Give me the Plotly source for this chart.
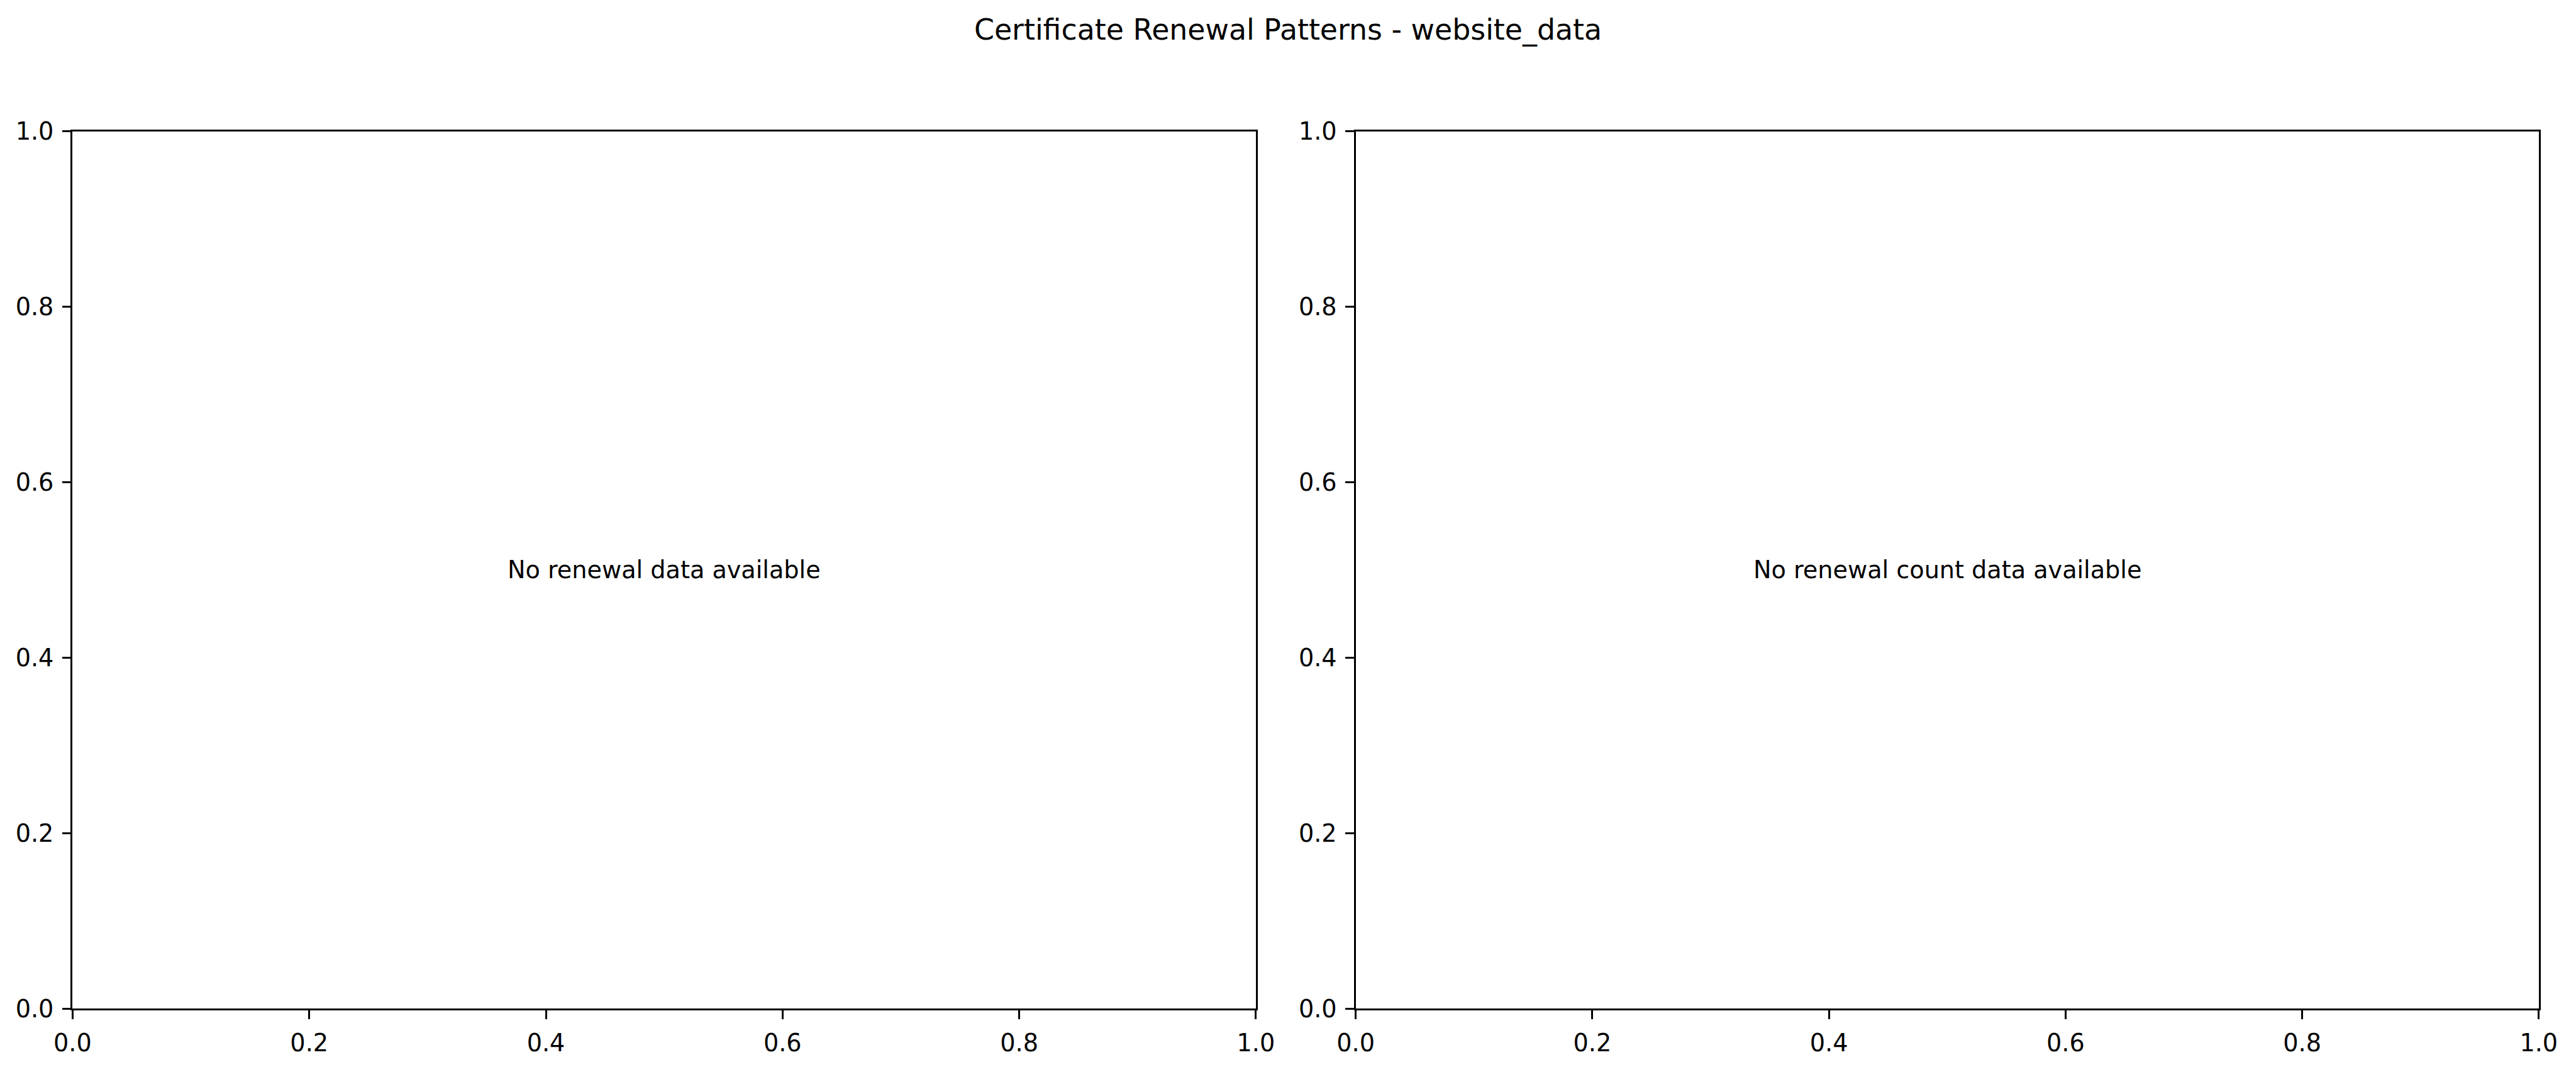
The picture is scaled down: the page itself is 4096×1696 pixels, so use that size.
import plotly.graph_objects as go

# ---- content ----
title_text = "Certificate Renewal Patterns - website_data"
panel_messages = ["No renewal data available", "No renewal count data available"]
tick_values = [0.0, 0.2, 0.4, 0.6, 0.8, 1.0]
tick_labels = ["0.0", "0.2", "0.4", "0.6", "0.8", "1.0"]
axis_range = [0.0, 1.0]

# ---- layout geometry (fractions of the window) ----
W, H = 4096, 1696
x_domains = [[0.02818, 0.48752], [0.52628, 0.98555]]
y_domain = [0.05466, 0.87700]

S = 0.916
tick_font = 41.67 * S
title_font = 50.0 * S
line_w = 3.33 * S
tick_len = 14.58 * S
FONT = "DejaVu Sans"

fig = go.Figure()

for i in range(2):
    suffix = "" if i == 0 else str(i + 1)
    fig.add_trace(go.Scatter(x=[], y=[], xaxis="x" + suffix, yaxis="y" + suffix,
                             showlegend=False))
    axis_common = dict(
        range=axis_range, tickmode="array", tickvals=tick_values, ticktext=tick_labels,
        showgrid=False, zeroline=False, showline=True, linecolor="black",
        linewidth=line_w, mirror=True, ticks="outside", ticklen=tick_len,
        tickwidth=line_w, tickcolor="black", automargin=False,
        tickfont=dict(family=FONT, size=tick_font, color="black"),
        fixedrange=True,
    )
    fig.layout["xaxis" + suffix] = dict(axis_common, domain=x_domains[i],
                                        anchor="y" + suffix, ticklabelstandoff=6)
    fig.layout["yaxis" + suffix] = dict(axis_common, domain=y_domain,
                                        anchor="x" + suffix, ticklabelstandoff=6)
    fig.add_annotation(text=panel_messages[i], xref=f"x{suffix} domain",
                       yref=f"y{suffix} domain", x=0.5, y=0.5,
                       xanchor="center", yanchor="middle", showarrow=False,
                       font=dict(family=FONT, size=tick_font, color="black"))

fig.update_layout(
    width=W, height=H, margin=dict(l=0, r=0, t=0, b=0, autoexpand=False),
    paper_bgcolor="white", plot_bgcolor="white",
    title=dict(text=title_text, x=0.5, xanchor="center", xref="container",
               y=1 - 47 / H, yref="container", yanchor="middle",
               automargin=False,
               font=dict(family=FONT, size=title_font, color="black")),
)

fig.write_html("out.html")
